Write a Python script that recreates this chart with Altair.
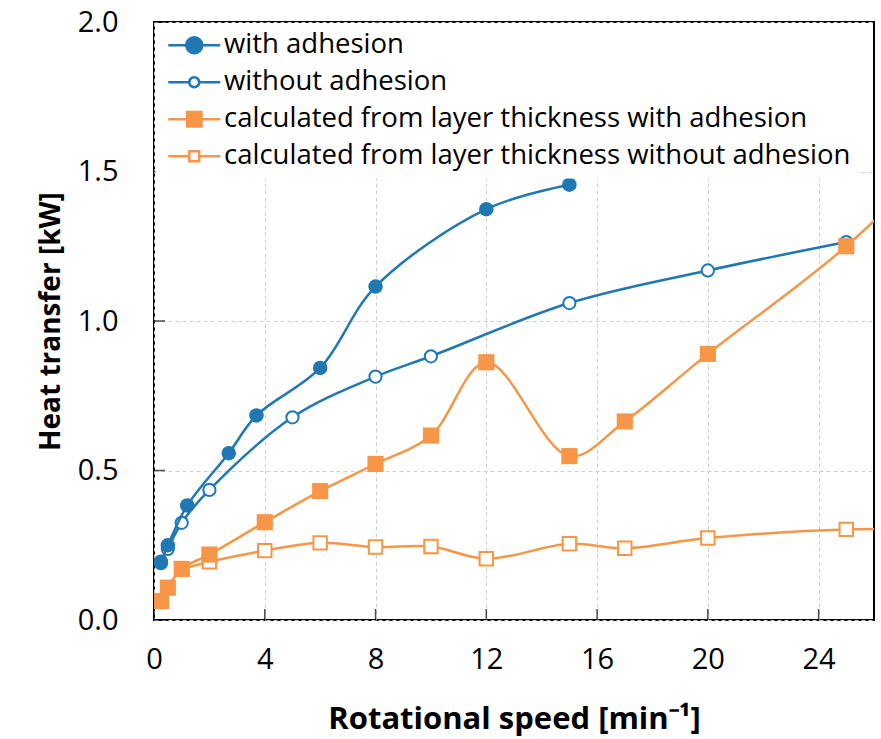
import altair as alt
import pandas as pd

# ---- data ----
x_with = [0.25, 0.5, 1.2, 2.7, 3.7, 6, 8, 12, 15]
y_with = [0.195, 0.25, 0.383, 0.558, 0.684, 0.843, 1.115, 1.374, 1.456]

x_without = [0.25, 0.5, 1, 2, 5, 8, 10, 15, 20, 25]
y_without = [0.19, 0.238, 0.325, 0.435, 0.678, 0.814, 0.882, 1.06, 1.169, 1.264]

x_calc_with = [0.25, 0.5, 1, 2, 4, 6, 8, 10, 12, 15, 17, 20, 25, 30]
y_calc_with = [0.063, 0.108, 0.171, 0.219, 0.327, 0.431, 0.522, 0.617, 0.862, 0.548, 0.664, 0.89, 1.25, 1.70]

x_calc_without = [1, 2, 4, 6, 8, 10, 12, 15, 17, 20, 25, 30]
y_calc_without = [0.17, 0.195, 0.232, 0.258, 0.244, 0.246, 0.205, 0.255, 0.24, 0.274, 0.303, 0.30]

series_names = [
    "with adhesion",
    "without adhesion",
    "calculated from layer thickness with adhesion",
    "calculated from layer thickness without adhesion",
]
x_ticks = [0, 4, 8, 12, 16, 20, 24]
y_ticks = [0.0, 0.5, 1.0, 1.5, 2.0]

BLUE = "#1F77B4"
ORANGE = "#F79646"
FONT = "Open Sans"

series_x = [x_with, x_without, x_calc_with, x_calc_without]
series_y = [y_with, y_without, y_calc_with, y_calc_without]
series_color = [BLUE, BLUE, ORANGE, ORANGE]
series_filled = [True, False, True, False]
series_shape = ["circle", "circle", "square", "square"]
series_size = [210, 150, 260, 180]
draw_order = [1, 0, 3, 2]  # later drawn on top

frames = []
for name, xs, ys in zip(series_names, series_x, series_y):
    frames.append(pd.DataFrame({"series": name, "x": xs, "y": ys}))
df = pd.concat(frames, ignore_index=True)

xscale = alt.Scale(domain=[0, 26], nice=False, zero=False)
yscale = alt.Scale(domain=[0, 2], nice=False)

xenc = alt.X(
    "x:Q", scale=xscale,
    axis=alt.Axis(values=x_ticks, title="Rotational speed [min⁻¹]", grid=True,
                  labelFlush=False),
)
yenc = alt.Y(
    "y:Q", scale=yscale,
    axis=alt.Axis(values=y_ticks, format=".1f", title="Heat transfer [kW]", grid=True),
)

layers = []
for i in draw_order:
    name, col, filled = series_names[i], series_color[i], series_filled[i]
    shp, sz = series_shape[i], series_size[i]
    base = alt.Chart(df).transform_filter(alt.datum.series == name)
    line = base.mark_line(color=col, strokeWidth=2.5, interpolate="catmull-rom",
                          clip=True).encode(x=xenc, y=yenc)
    pts = base.mark_point(
        shape=shp, size=sz, filled=filled, clip=True,
        fill=col if filled else "white", stroke=col,
        strokeWidth=0 if filled else 2, opacity=1,
    ).encode(x=xenc, y=yenc)
    layers += [line, pts]

# inward tick marks
xt = pd.DataFrame({"x": x_ticks})
yt = pd.DataFrame({"y": y_ticks})
xtick_layer = alt.Chart(xt).mark_tick(
    orient="vertical", color="black", size=11, thickness=1.5, yOffset=-5.5
).encode(x=alt.X("x:Q", scale=xscale), y=alt.datum(0))
ytick_layer = alt.Chart(yt).mark_tick(
    orient="horizontal", color="black", size=11, thickness=1.5, xOffset=5.5
).encode(y=alt.Y("y:Q", scale=yscale), x=alt.datum(0))

# legend-only layer (invisible marks, visible legend)
line_filled_circle = "M-3.25,0H3.25M-1,0A1,1 0 1,0 1,0A1,1 0 1,0 -1,0Z"
line_open_circle = "M-3.25,0H-0.62M0.62,0H3.25M-0.62,0A0.62,0.62 0 1,0 0.62,0A0.62,0.62 0 1,0 -0.62,0Z"
line_filled_square = "M-3.25,0H3.25M-0.9,-0.9H0.9V0.9H-0.9Z"
line_open_square = "M-3.25,0H-0.62M0.62,0H3.25M-0.62,-0.62H0.62V0.62H-0.62Z"


def make_legend():
    return alt.Legend(
        title=None, orient="none", legendX=1.5, legendY=1.5, padding=8,
        fillColor="white",
        symbolSize=256, symbolStrokeWidth=2.5, symbolOffset=17,
        symbolFillColor="white", symbolStrokeColor="black", symbolOpacity=1,
        labelOffset=16, labelFont=FONT, labelFontSize=27.5, labelColor="black",
        rowPadding=8, labelLimit=800,
    )


legend_layer = alt.Chart(df).mark_point(opacity=0, filled=True).encode(
    x=xenc, y=yenc,
    shape=alt.Shape("series:N", scale=alt.Scale(
        domain=series_names,
        range=[line_filled_circle, line_open_circle, line_filled_square, line_open_square]),
        legend=make_legend()),
    fill=alt.Fill("series:N", scale=alt.Scale(domain=series_names,
                                              range=[BLUE, "white", ORANGE, "white"]),
                  legend=make_legend()),
    stroke=alt.Stroke("series:N", scale=alt.Scale(domain=series_names,
                                                  range=[BLUE, BLUE, ORANGE, ORANGE]),
                      legend=make_legend()),
)

chart = alt.layer(*layers, xtick_layer, ytick_layer, legend_layer).properties(
    width=720, height=598,
    autosize=alt.AutoSizeParams(type="none"),
    padding={"left": 154, "top": 22, "right": 7, "bottom": 119},
).configure_view(
    stroke="black", strokeWidth=2,
).configure_axis(
    domain=False, ticks=False, tickSize=0,
    gridColor="#d0d0d0", gridDash=[4, 3], gridWidth=1,
    labelFont=FONT, labelFontSize=29, labelColor="black",
    titleFont=FONT, titleFontWeight="bold", titleColor="black",
).configure_axisX(
    labelPadding=25, titlePadding=30, titleFontSize=31,
).configure_axisY(
    labelPadding=36, titlePadding=12, titleFontSize=28,
)

chart.save("out.html", embed_options={"renderer": "svg", "actions": False})
